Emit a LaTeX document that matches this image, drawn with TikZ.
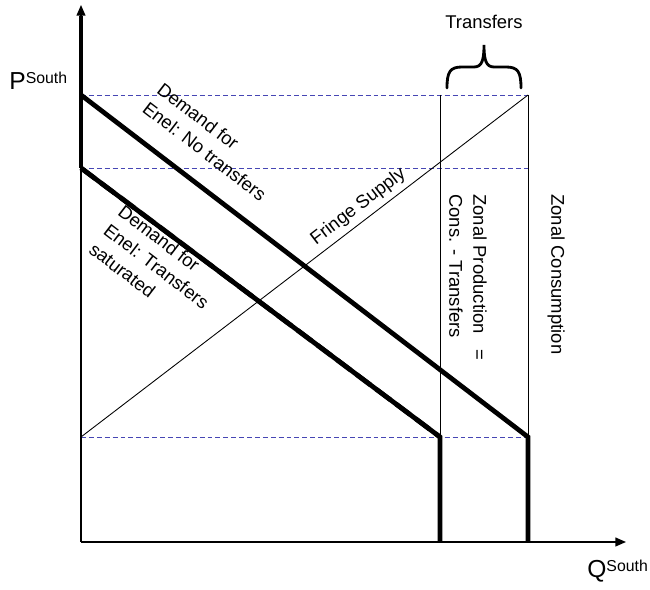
\documentclass[tikz,border=0pt]{standalone}
\usepackage{fontspec}
\setmainfont{Liberation Sans}
\usetikzlibrary{arrows.meta}

\definecolor{levelblue}{RGB}{70,70,180}

\tikzset{
  axis/.style={line width=0.8pt, -{Triangle[length=6pt,width=5pt]}},
  thinline/.style={line width=0.5pt},
  demand/.style={line width=2.7pt},
  level/.style={draw=levelblue, line width=0.5pt, dash pattern=on 2.8pt off 1.7pt},
  bracket/.style={line width=1.6pt, line cap=round},
  lbl/.style={font=\fontsize{10.5}{13.6}\selectfont, inner sep=0pt, align=left},
}

\begin{document}
\begin{tikzpicture}[x=0.02cm, y=-0.02cm]
    \useasboundingbox (0,0) rectangle (650,590);
    % key points
    \coordinate (O) at (81,542);
    \coordinate (yTop) at (81,5);
    \coordinate (xEnd) at (626,542);
    \coordinate (pHigh) at (81,95);
    \coordinate (pLow) at (81,168);
    \coordinate (pFloor) at (81,437);
    \coordinate (prodTop) at (440,95);
    \coordinate (prodKink) at (440,437);
    \coordinate (prodBase) at (440,542);
    \coordinate (consTop) at (528,95);
    \coordinate (consMid) at (528,168);
    \coordinate (consKink) at (528,437);
    \coordinate (consBase) at (528,542);
    % price levels
    \draw[level] (pHigh) -- (consTop);
    \draw[level] (pLow) -- (consMid);
    \draw[level] (pFloor) -- (consKink);
    % zonal quantities
    \draw[thinline] (prodTop) -- (prodBase);
    \draw[thinline] (consTop) -- (consBase);
    \draw[thinline] (pFloor) -- node[lbl, sloped, pos=0.64, above=3pt] (fringe) {Fringe Supply} (consTop);
    % axes
    \draw[axis] (O) -- (yTop);
    \draw[axis] (O) -- (xEnd);
    % demand curves
    \draw[demand] (pLow) -- (81,16);
    \draw[demand] (pHigh) -- (consKink) -- (consBase);
    \draw[demand] (pLow) -- (prodKink) -- (prodBase);
    \draw[demand, dash pattern=on 10pt off 4pt, shift={(0.5,-2)}] (pLow) -- (prodKink);
    % transfers brace
    \draw[bracket] (447,88) .. controls (447,72) and (450,67) .. (462,67) -- (474,67)
        .. controls (482,67) and (484,60) .. (484,45)
        .. controls (484,60) and (486,67) .. (494,67) -- (506,67)
        .. controls (518,67) and (521,72) .. (521,88);
    % labels
    \node[anchor=base west, inner sep=0pt] (pLabel) at (9,90)
        {\fontsize{14}{14}\selectfont P\raisebox{3.6pt}{\fontsize{9}{9}\selectfont South}};
    \node[anchor=base west, inner sep=0pt] (qLabel) at (587,578)
        {\fontsize{14}{14}\selectfont Q\raisebox{3.6pt}{\fontsize{9}{9}\selectfont South}};
    \node[lbl, anchor=base] (transLbl) at (484,29) {Transfers};
    \node[lbl, rotate=-37.4, anchor=north west] (demNoT) at (164,81) {Demand for\\Enel: No transfers};
    \node[lbl, rotate=-37.4, anchor=north west] (demSat) at (125,203) {Demand for\\Enel: Transfers\\saturated};
    \node[lbl, rotate=-90, anchor=north west] (zonProd) at (487,194) {Zonal Production\hspace{9pt}=\\Cons. - Transfers};
    \node[lbl, rotate=-90, anchor=north west] (zonCons) at (565,194) {Zonal Consumption};
\end{tikzpicture}
\end{document}
